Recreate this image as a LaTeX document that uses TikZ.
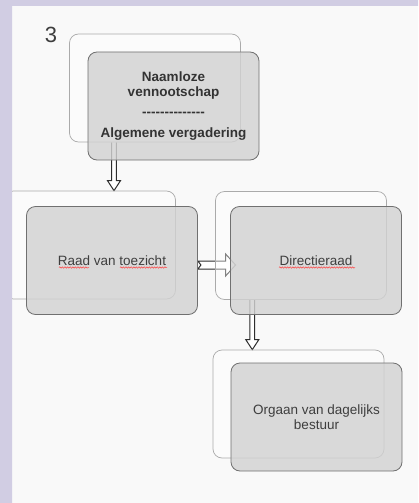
\documentclass[tikz,border=0pt]{standalone}
\usepackage{fontspec}
\newfontfamily\slidefont{Liberation Sans}
\usetikzlibrary{calc,decorations.pathmorphing}
\definecolor{framelilac}{RGB}{209,205,227}
\definecolor{slidegrey}{RGB}{249,249,249}
\definecolor{boxgrey}{RGB}{210,210,210}
\definecolor{edgegrey}{RGB}{112,112,112}
\definecolor{backedge}{RGB}{170,170,170}
\definecolor{textgrey}{RGB}{62,62,62}
\definecolor{arrowgrey}{RGB}{45,45,45}
\pgfdeclarelayer{slide}
\pgfdeclarelayer{links}
\pgfsetlayers{slide,links,main}
\tikzset{
	backbox/.style={draw=backedge,fill=white,fill opacity=0.4,rounded corners=9pt,line width=0.7pt,minimum width=171pt,minimum height=108pt,inner sep=0pt},
	frontbox/.style={draw=edgegrey,fill=boxgrey,fill opacity=0.82,text opacity=1,rounded corners=9pt,line width=0.8pt,minimum width=171pt,minimum height=108pt,inner sep=0pt,align=center,text=textgrey,font=\slidefont\fontsize{13.5}{15.5}\selectfont},
	hollowdown/.style={draw=arrowgrey,fill=white,line width=1pt,
		to path={let \p1=(\tikztostart),\p2=(\tikztotarget) in
			(\x1-2.4pt,\y1) -- (\x1-2.4pt,\y2+10pt) -- (\x1-6.5pt,\y2+10pt) -- (\x1,\y2)
			-- (\x1+6.5pt,\y2+10pt) -- (\x1+2.4pt,\y2+10pt) -- (\x1+2.4pt,\y1)}},
	hollowright/.style={draw=arrowgrey,fill=white,line width=1pt,
		to path={let \p1=(\tikztostart),\p2=(\tikztotarget) in
			(\x1,\y1+4pt) -- (\x2-10pt,\y1+4pt) -- (\x2-10pt,\y1+11pt) -- (\x2,\y1)
			-- (\x2-10pt,\y1-11pt) -- (\x2-10pt,\y1-4pt) -- (\x1,\y1-4pt) -- (\x1+3pt,\y1) -- cycle}},
	spellmark/.style={draw=red!75,line width=0.5pt,decorate,decoration={snake,amplitude=0.7pt,segment length=2.6pt}}
}
\begin{document}
\begin{tikzpicture}[x=1pt,y=-1pt]
	\useasboundingbox (0,0) rectangle (418,503);
	\begin{pgfonlayer}{slide}
	\fill[slidegrey] (0,0) rectangle (418,503);
	\end{pgfonlayer}
	\node[text=textgrey,font=\slidefont\fontsize{22}{24}\selectfont] (slidenr) at (51,35) {3};
	\node[backbox] (nvback) at (155,88) {};
	\node[backbox] (rvtback) at (90,245) {};
	\node[backbox] (drback) at (301,245.5) {};
	\node[backbox] (ogback) at (298.5,404) {};
	\node[frontbox,font=\slidefont\bfseries\fontsize{13.5}{15}\selectfont,text=black!80] (nv) at (173.5,106) {Naamloze\\vennootschap\\[5pt]--------------\\[6pt]Algemene vergadering};
	\node[frontbox] (rvt) at (112,260.5) {Raad van toezicht};
	\node[frontbox] (dr) at (316,260.5) {Directieraad};
	\node[frontbox] (og) at (316.5,417) {Orgaan van dagelijks\\bestuur};
	\coordinate (nvfoot) at ([xshift=-41pt]nvback.south);
	\coordinate (drfoot) at ([xshift=-48.7pt]drback.south);
	\begin{pgfonlayer}{links}
	\draw[hollowdown] (nvfoot) to (nvfoot |- rvtback.north);
	\draw[hollowright] ([yshift=-4.5pt]rvt.east) to ([yshift=-4.5pt,xshift=5.5pt]dr.west);
	\draw[hollowdown] (drfoot) to (drfoot |- ogback.north);
	\end{pgfonlayer}
	\draw[spellmark] ([xshift=-53pt,yshift=-7pt]rvt.center) -- ([xshift=-23pt,yshift=-7pt]rvt.center);
	\draw[spellmark] ([xshift=8pt,yshift=-7pt]rvt.center) -- ([xshift=55pt,yshift=-7pt]rvt.center);
	\draw[spellmark] ([xshift=-37pt,yshift=-7pt]dr.center) -- ([xshift=39pt,yshift=-7pt]dr.center);
	\fill[framelilac] (0,0) rectangle (12,503) (12,0) rectangle (418,6);
\end{tikzpicture}
\end{document}
